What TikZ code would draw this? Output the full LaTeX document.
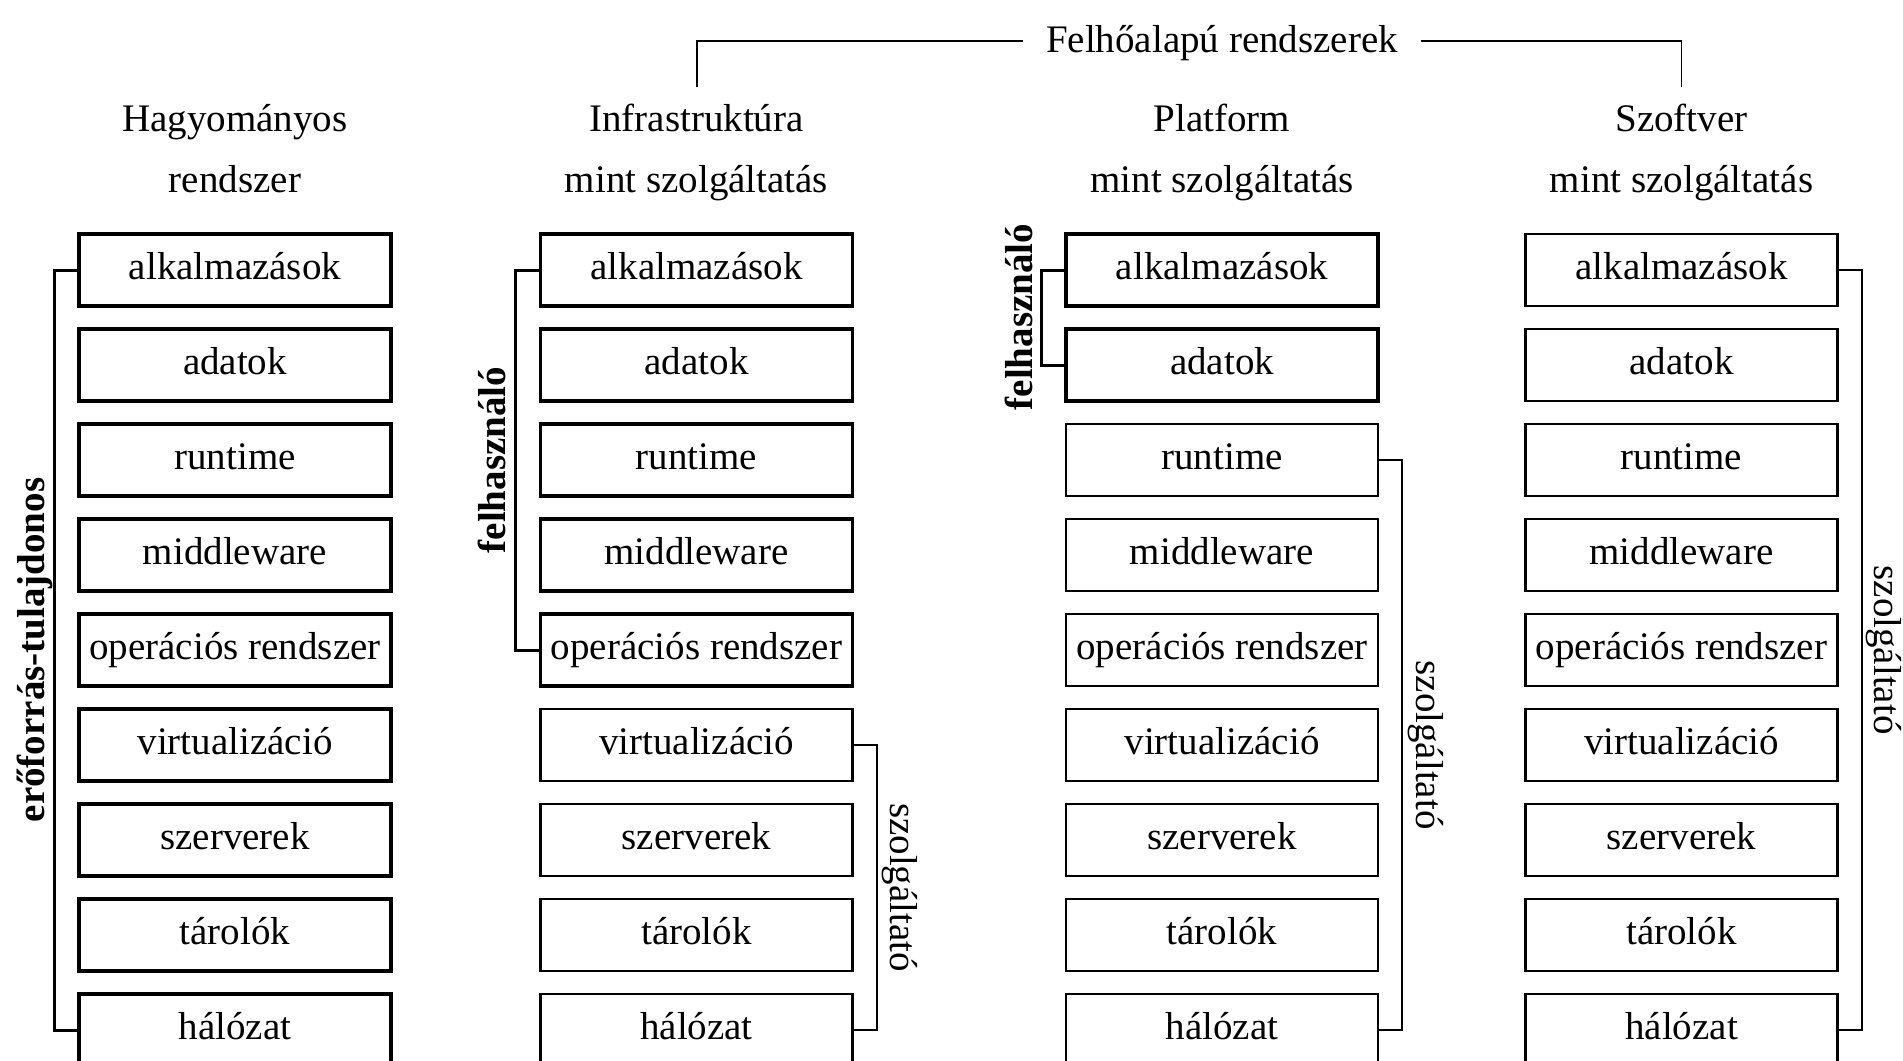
\documentclass[tikz,border=0pt]{standalone}
\usepackage{fontspec}
\setmainfont{Liberation Serif}
\begin{document}
\begin{tikzpicture}[x=1pt,y=-1pt,
  every node/.style={font=\fontsize{39}{45}\selectfont},
  box/.style={draw, minimum width=312pt, minimum height=72pt, inner sep=0pt, text height=25pt, text depth=6pt},
  ubox/.style={box, line width=3.5pt},
  pbox/.style={box, line width=2.2pt},
  ubr/.style={line width=3pt},
  pbr/.style={line width=2pt},
  tbr/.style={line width=1.8pt},
  hdr/.style={anchor=base},
  ttl/.style={text height=27pt, text depth=5pt, inner xsep=23pt, inner ysep=0pt},
  ulab/.style={anchor=base, rotate=90, font=\fontsize{39}{45}\selectfont\bfseries},
  plab/.style={anchor=base, rotate=-90},
]
\useasboundingbox (0,0) rectangle (1903,1060);
\clip (0,0) rectangle (1903,1060);

% title
\node[ttl] (fl) at (1222,41) {Felhőalapú rendszerek};
\coordinate (tl) at (697,87);
\coordinate (tr) at (1681.5,87);
\draw[tbr] (tl) |- (fl.west);
\draw[tbr] (tr) |- (fl.east);

% headers
\node[hdr] (h1a) at (235,131.5) {Hagyományos};
\node[hdr] (h1b) at (235,192.5) {rendszer};
\node[hdr] (h2a) at (696.5,131.5) {Infrastruktúra};
\node[hdr] (h2b) at (696.5,192.5) {mint szolgáltatás};
\node[hdr] (h3a) at (1222,131.5) {Platform};
\node[hdr] (h3b) at (1222,192.5) {mint szolgáltatás};
\node[hdr] (h4a) at (1681.5,131.5) {Szoftver};
\node[hdr] (h4b) at (1681.5,192.5) {mint szolgáltatás};

% columns
\foreach \t [count=\i] in {alkalmazások,adatok,runtime,middleware,operációs rendszer,virtualizáció,szerverek,tárolók,hálózat}{
  \node[ubox] (a\i) at (235,{270+95*(\i-1)}) {\t};
  \ifnum\i<6
    \node[ubox] (b\i) at (696.5,{270+95*(\i-1)}) {\t};
  \else
    \node[pbox] (b\i) at (696.5,{270+95*(\i-1)}) {\t};
  \fi
  \ifnum\i<3
    \node[ubox] (c\i) at (1222,{270+95*(\i-1)}) {\t};
  \else
    \node[pbox] (c\i) at (1222,{270+95*(\i-1)}) {\t};
  \fi
  \node[pbox] (d\i) at (1681.5,{270+95*(\i-1)}) {\t};
}

% brackets
\draw[ubr] (a1.west) -- ++(-23,0) |- (a9.west);
\draw[ubr] (b1.west) -- ++(-23,0) |- (b5.west);
\draw[pbr] (b6.east) -- ++(23,0) |- (b9.east);
\draw[ubr] (c1.west) -- ++(-23,0) |- (c2.west);
\draw[pbr] (c3.east) -- ++(23,0) |- (c9.east);
\draw[pbr] (d1.east) -- ++(23,0) |- (d9.east);

% bracket labels
\node[ulab] (l1) at (44,650) {erőforrás-tulajdonos};
\node[ulab] (l2) at (505,460) {felhasználó};
\node[plab] (l3) at (890,887.5) {szolgáltató};
\node[ulab] (l4) at (1032,317) {felhasználó};
\node[plab] (l5) at (1416,745) {szolgáltató};
\node[plab] (l6) at (1874,650) {szolgáltató};
\end{tikzpicture}
\end{document}
